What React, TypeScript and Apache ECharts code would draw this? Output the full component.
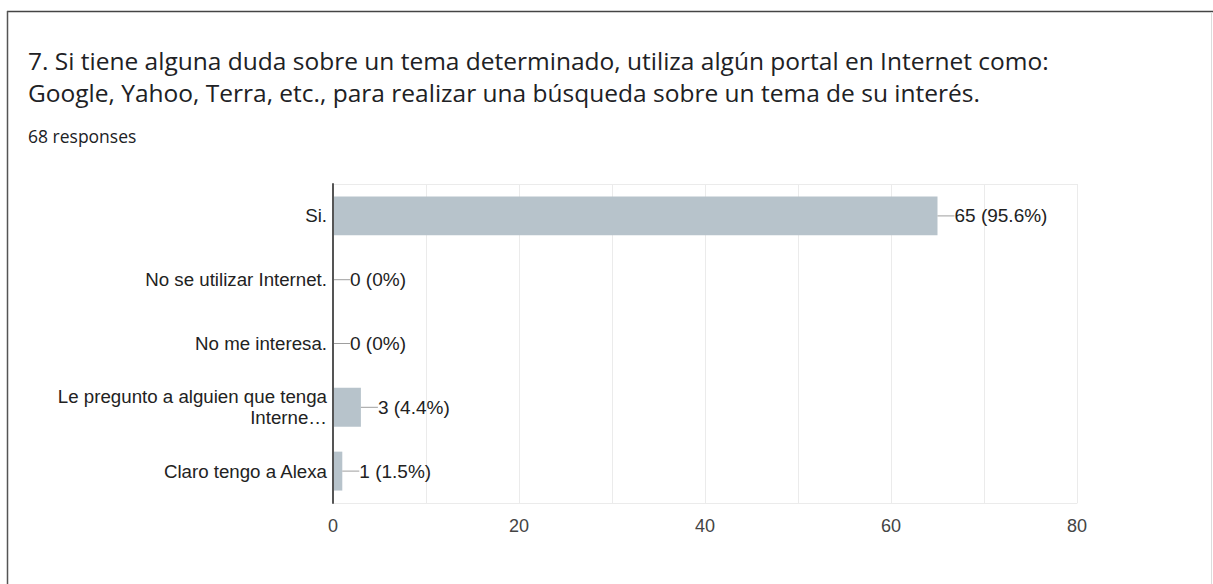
import React, { useEffect, useRef } from "react";
import * as echarts from "echarts";

const titleLines = [
  "7. Si tiene alguna duda sobre un tema determinado, utiliza algún portal en Internet como:",
  "Google, Yahoo, Terra, etc., para realizar una búsqueda sobre un tema de su interés.",
];
const subtitle = "68 responses";
const categories = [
  "Si.",
  "No se utilizar Internet.",
  "No me interesa.",
  "Le pregunto a alguien que tenga\nInterne…",
  "Claro tengo a Alexa",
];
const counts = [65, 0, 0, 3, 1];
const percents = ["95.6%", "0%", "0%", "4.4%", "1.5%"];
const xTicks = [0, 20, 40, 60, 80];

export default function App() {
  const ref = useRef<HTMLDivElement>(null);
  useEffect(() => {
    if (!ref.current) return;
    const chart = echarts.init(ref.current, null, { renderer: "svg" });
    chart.setOption({
      animation: false,
      backgroundColor: "#ffffff",
      title: [
        {
          text: titleLines.join("\n"),
          left: 28,
          top: 44,
          padding: 0,
          textStyle: {
            fontFamily: "Open Sans",
            fontSize: 24.5,
            fontWeight: "normal",
            color: "#202124",
            lineHeight: 32.5,
          },
        },
        {
          text: subtitle,
          left: 28,
          top: 127,
          padding: 0,
          textStyle: {
            fontFamily: "Open Sans",
            fontSize: 17.5,
            fontWeight: "normal",
            color: "#202124",
          },
        },
      ],
      graphic: [
        { type: "line", shape: { x1: 7, y1: 11.5, x2: 1213, y2: 11.5 }, style: { stroke: "#444", lineWidth: 1.5 } },
        { type: "line", shape: { x1: 7.5, y1: 11, x2: 7.5, y2: 584 }, style: { stroke: "#555", lineWidth: 1.5 } },
        { type: "line", shape: { x1: 1211.5, y1: 12, x2: 1211.5, y2: 584 }, style: { stroke: "#dcdcdc", lineWidth: 1 } },
      ],
      grid: { left: 333, right: 136, top: 184, bottom: 81 },
      xAxis: [
        {
          type: "value",
          min: 0,
          max: 80,
          interval: 20,
          axisLine: { show: true, lineStyle: { color: "#ebebeb" } },
          axisTick: { show: false },
          axisLabel: {
            margin: 14,
            fontFamily: "Liberation Sans",
            fontSize: 18,
            color: "#444",
            formatter: (v: number) => (xTicks.includes(v) ? String(v) : ""),
          },
          splitLine: { show: true, lineStyle: { color: "#ebebeb" } },
          minorTick: { show: false, splitNumber: 2 },
          minorSplitLine: { show: true, lineStyle: { color: "#ebebeb" } },
        },
        {
          type: "value",
          position: "top",
          min: 0,
          max: 80,
          interval: 20,
          axisLine: { show: true, lineStyle: { color: "#ebebeb" } },
          axisTick: { show: false },
          axisLabel: { show: false },
          splitLine: { show: false },
        },
      ],
      yAxis: {
        type: "category",
        data: categories,
        inverse: true,
        z: 5,
        axisLine: { show: true, lineStyle: { color: "#555", width: 2 } },
        axisTick: { show: false },
        splitLine: { show: false },
        axisLabel: {
          margin: 6,
          fontFamily: "Liberation Sans",
          fontSize: 18.7,
          color: "#222",
          lineHeight: 21,
          align: "right",
        },
      },
      series: [
        {
          type: "bar",
          data: counts,
          barWidth: "61%",
          itemStyle: { color: "#b7c3cb" },
          label: {
            show: true,
            position: "right",
            distance: 0,
            formatter: (p: any) => `{l|}{t|${counts[p.dataIndex]} (${percents[p.dataIndex]})}`,
            rich: {
              l: { width: 17, height: 1, backgroundColor: "#9e9e9e", verticalAlign: "middle" },
              t: { fontFamily: "Liberation Sans", fontSize: 19, color: "#222", verticalAlign: "middle" },
            },
          },
        },
      ],
    });
    return () => chart.dispose();
  }, []);
  return (
    <div
      ref={ref}
      style={{ position: "fixed", left: 0, top: 0, width: 1213, height: 584 }}
    />
  );
}
